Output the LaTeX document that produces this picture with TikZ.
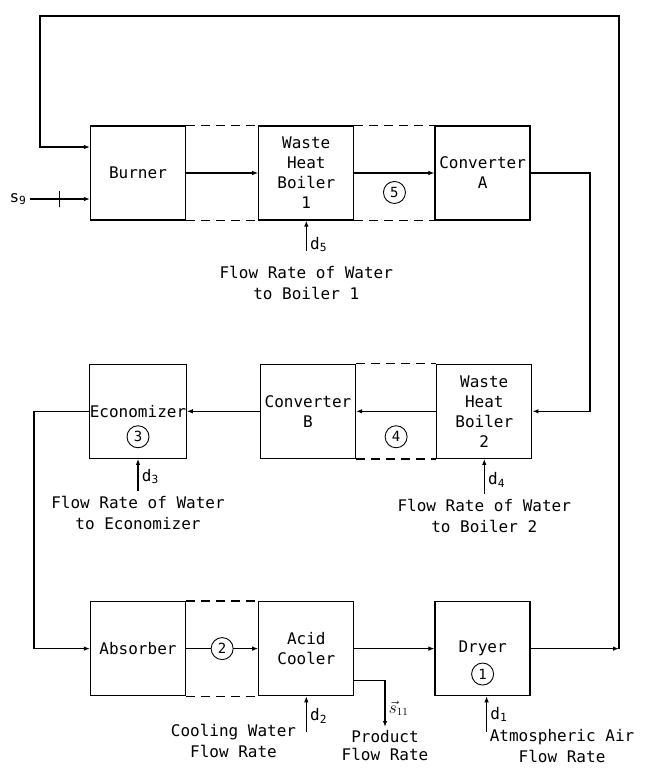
\documentclass[tikz,border=0pt]{standalone}
\usepackage{fontspec}
\setmainfont{DejaVu Sans Mono}
\usetikzlibrary{arrows.meta,positioning}

\begin{document}
\begin{tikzpicture}[
  x=1pt, y=-1pt,
  font=\fontsize{16}{20}\selectfont,
  box/.style={draw,line width=1.3pt,minimum width=95pt,minimum height=94pt,
              inner sep=0pt,align=center},
  arr/.style={-{Latex[length=6pt,width=4.5pt]},line width=1.1pt},
  dline/.style={line width=1.2pt,dash pattern=on 9pt off 6pt},
  num/.style={draw,circle,line width=0.9pt,minimum size=22pt,inner sep=0pt,
              font=\fontsize{14}{14}\selectfont,fill=white},
  lbl/.style={align=center,inner sep=0pt,font=\fontsize{16}{21}\selectfont},
  tickmark/.style={draw,line width=1.1pt,minimum width=0pt,minimum height=16pt,
                   inner sep=0pt}
]
\useasboundingbox (0,0) rectangle (647,769);

\node[box] (burner) at (138,173) {Burner};
\node[box,right=72pt of burner] (whb1) {Waste\\Heat\\Boiler\\1};
\node[box,right=80pt of whb1] (conva) {Converter\\A};
\node[box,below=143pt of burner] (econ) {Economizer};
\node[box,right=73pt of econ] (convb) {Converter\\B};
\node[box,right=80pt of convb] (whb2) {Waste\\Heat\\Boiler\\2};
\node[box,below=142pt of econ] (absorber) {Absorber};
\node[box,right=72pt of absorber] (acid) {Acid\\Cooler};
\node[box,right=80pt of acid] (dryer) {Dryer};

\foreach \a/\b in {burner/whb1,whb1/conva,convb/whb2,absorber/acid}{
  \draw[dline] (\a.north east) -- (\b.north west);
  \draw[dline] (\a.south east) -- (\b.south west);
}

\draw[arr] (burner) -- (whb1);
\draw[arr] (whb1) -- node[num,below=8pt] {5} (conva);
\coordinate (rt) at (590,300);
\draw[arr] (conva.east) -| (rt) |- (whb2.east);
\draw[arr] (whb2) -- node[num,below=14pt] {4} (convb);
\draw[arr] (convb) -- (econ);
\node[num,below=14pt of econ.center] (n3) {3};
\coordinate (lw) at (34,520);
\draw[arr] (econ.west) -| (lw) |- (absorber.west);
\draw[arr] (absorber) -- node[num] {2} (acid);
\draw[arr] (acid) -- (dryer);
\node[num,below=14pt of dryer.center] (n1) {1};

\coordinate (ne) at (619,16);
\coordinate (nw) at (40,16);
\draw[arr] (dryer.east) -- (dryer.east -| ne);
\draw[arr] (dryer.east -| ne) -- (ne) -- (nw) |- ([yshift=26pt]burner.west);

\node (s9) at (18,199) {s\textsubscript{9}};
\draw[arr] (s9.east) -- node[tickmark,pos=0.5] {} (s9.east -| burner.west);

\coordinate[below=30pt of whb1.south] (d5in);
\draw[arr] (d5in) -- node[right,pos=0.2] {d\textsubscript{5}} (whb1.south);
\node[lbl,below=15pt of d5in] (t5) {Flow Rate of Water\\to Boiler 1};

\coordinate[below=35pt of whb2.south] (d4in);
\draw[arr] (d4in) -- node[right,pos=0.4] {d\textsubscript{4}} (whb2.south);
\node[lbl,below=5pt of d4in] (t4) {Flow Rate of Water\\to Boiler 2};

\coordinate[below=32pt of econ.south] (d3in);
\draw[arr] (d3in) -- node[right,pos=0.45] {d\textsubscript{3}} (econ.south);
\node[lbl,below=5pt of d3in] (t3) {Flow Rate of Water\\to Economizer};

\coordinate[below=36pt of acid.south] (d2in);
\draw[arr] (d2in) -- node[right,pos=0.45] {d\textsubscript{2}} (acid.south);
\node[lbl,anchor=north east] (t2) at ([xshift=-10pt,yshift=8pt]d2in) {Cooling Water\\Flow Rate};

\coordinate (d1in) at ([xshift=4pt,yshift=-36pt]dryer.south);
\draw[arr] (d1in) -- node[right,pos=0.5] {d\textsubscript{1}} (d1in |- dryer.south);
\node[lbl,anchor=north west] (t1) at ([xshift=3pt,yshift=3pt]d1in) {Atmospheric Air\\Flow Rate};

\coordinate (prod) at (385,727);
\draw[arr] ([yshift=-32pt]acid.east) -| node[right,pos=0.8] {$\vec{s}_{11}$} (prod);
\node[lbl,below=3pt of prod,font=\fontsize{16}{18}\selectfont] (t11) {Product\\Flow Rate};
\end{tikzpicture}
\end{document}
